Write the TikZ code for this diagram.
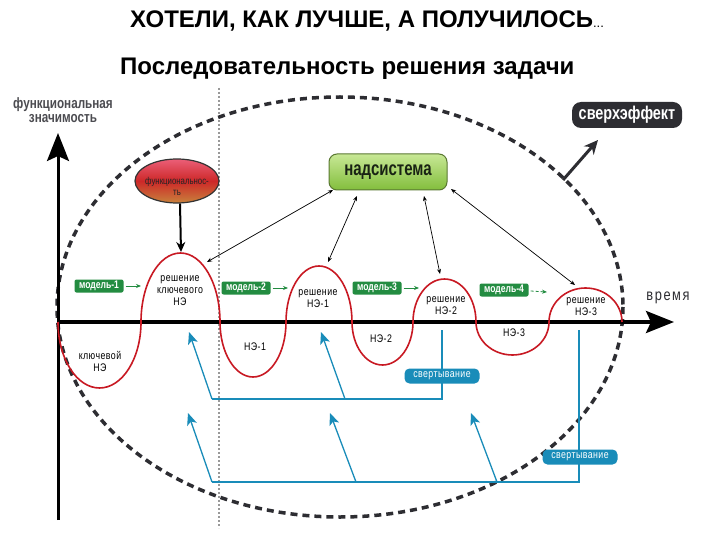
\documentclass[tikz,border=0pt]{standalone}
\usepackage{fontspec}
\setmainfont{Liberation Sans}
\newfontfamily\narrowf{Liberation Sans}
\newfontfamily\condf[FakeStretch=0.8,LetterSpace=4]{Liberation Sans}
\newfontfamily\spacedf[FakeStretch=0.8,LetterSpace=10]{Liberation Sans}
\newfontfamily\tightf[FakeStretch=0.78]{Liberation Sans}
\newfontfamily\slimf[FakeStretch=0.75]{Liberation Sans}
\usetikzlibrary{arrows.meta,shapes.geometric}
\definecolor{wavered}{RGB}{200,25,35}
\definecolor{mgreen}{RGB}{35,140,65}
\definecolor{tealb}{RGB}{25,140,185}
\definecolor{dgray}{RGB}{45,45,50}
\tikzset{
  wave/.style={draw=wavered, line width=1.6pt},
  modelbox/.style={fill=mgreen, text=white, rounded corners=2pt, font=\tightf\bfseries\fontsize{11}{11}\selectfont, inner sep=0.5pt, minimum width=49pt, minimum height=13pt},
  svbox/.style={fill=tealb, text=white, rounded corners=5pt, font=\condf\fontsize{11}{11}\selectfont, minimum width=75pt, minimum height=15pt, inner sep=0.5pt},
  lbl/.style={font=\condf\fontsize{11}{12}\selectfont, align=center, inner sep=0pt},
  garr/.style={draw=mgreen, line width=0.8pt, -{Stealth[length=5pt,width=4pt]}},
  barr/.style={draw=tealb, line width=1.3pt, -{Stealth[length=12pt,width=10pt,inset=3pt]}},
  bline/.style={draw=tealb, line width=1.3pt},
  darr/.style={draw=black, line width=0.7pt, {Stealth[length=5pt,width=4pt]}-{Stealth[length=5pt,width=4pt]}},
  axisline/.style={draw=black, line width=3pt, -{Stealth[length=28pt,width=22pt,inset=5pt]}},
}
\begin{document}
\begin{tikzpicture}[x=1pt,y=-1pt]
\useasboundingbox[fill=white] (0,0) rectangle (720,540);

% titles
\node[anchor=base west, inner sep=0pt, font=\narrowf\bfseries\fontsize{24}{24}\selectfont] (title) at (130,28)
  {ХОТЕЛИ, КАК ЛУЧШЕ, А ПОЛУЧИЛОСЬ{\normalfont\fontsize{13}{13}\selectfont...}};
\node[anchor=base west, inner sep=0pt, font=\narrowf\bfseries\fontsize{24}{24}\selectfont] (subtitle) at (120,75)
  {Последовательность решения задачи};

% dotted vertical line
\coordinate (vt) at (219,88);
\coordinate (vb) at (219,528);
\draw[gray!80, line width=1.2pt, dash pattern=on 2pt off 2pt] (vt) -- (vb);

% big dashed ellipse
\draw[dgray, line width=3.5pt, dash pattern=on 7pt off 5pt] (340,307) ellipse [x radius=283, y radius=210];

% axes
\coordinate (o) at (58,322);
\coordinate (ytop) at (58,133);
\coordinate (ybot) at (58,520);
\coordinate (xend) at (674,322);
\draw[axisline] (ybot) -- (ytop);
\draw[axisline, line width=3.5pt] (o) -- (xend);
\node[font=\tightf\bfseries\fontsize{15}{14}\selectfont, text=dgray!85, align=center, inner sep=0pt] (ylab) at (63,110) {функциональная\\значимость};
\node[font=\spacedf\fontsize{16}{16}\selectfont, text=dgray, inner sep=0pt] (tlab) at (668,298) {время};

% wave
\draw[wave] (58,322)
  .. controls (58,358.5) and (76.6,388) .. (99.5,388) .. controls (122.4,388) and (141,358.5) .. (141,322)
  .. controls (141,283.9) and (158.7,253) .. (180.5,253) .. controls (202.3,253) and (220,283.9) .. (220,322)
  .. controls (220,352.4) and (234.8,377) .. (253,377) .. controls (271.2,377) and (286,352.4) .. (286,322)
  .. controls (286,291.1) and (300.8,266) .. (319,266) .. controls (337.2,266) and (352,291.1) .. (352,322)
  .. controls (352,345.7) and (365.7,365) .. (382.5,365) .. controls (399.3,365) and (413,345.7) .. (413,322)
  .. controls (413,298.3) and (427.1,279) .. (444.5,279) .. controls (461.9,279) and (476,298.3) .. (476,322)
  .. controls (476,340.2) and (492.3,355) .. (512.5,355) .. controls (532.7,355) and (549,340.2) .. (549,322)
  .. controls (549,303.2) and (565.3,288) .. (585.5,288) .. controls (605.7,288) and (622,303.2) .. (622,322);

% wave labels
\node[lbl] (k0) at (100,361) {ключевой\\НЭ};
\node[lbl] (r0) at (180,291) {решение\\ключевого\\НЭ};
\node[lbl] (n1) at (255,347) {НЭ-1};
\node[lbl] (r1) at (318,299) {решение\\НЭ-1};
\node[lbl] (n2) at (381,339) {НЭ-2};
\node[lbl] (r2) at (446,306) {решение\\НЭ-2};
\node[lbl] (n3) at (514,333) {НЭ-3};
\node[lbl] (r3) at (586,307) {решение\\НЭ-3};

% models
\node[modelbox] (m1) at (99,286) {модель-1};
\node[modelbox] (m2) at (246,288) {модель-2};
\node[modelbox] (m3) at (377,288) {модель-3};
\node[modelbox] (m4) at (504,290) {модель-4};
\coordinate (m1t) at (141,286);
\coordinate (m2t) at (288,288);
\coordinate (m3t) at (419,288);
\coordinate (m4t) at (547,292);
\draw[garr] (m1.east) ++(2,0) -- (m1t);
\draw[garr] (m2.east) ++(2,0) -- (m2t);
\draw[garr] (m3.east) ++(2,0) -- (m3t);
\draw[garr, dash pattern=on 3pt off 2pt] (m4.east) ++(2,1) -- (m4t);

% functional ellipse
\node[ellipse, draw=black!80, line width=1.2pt, minimum width=84pt, minimum height=44pt, inner sep=0pt,
      top color={rgb,255:red,235;green,95;blue,120}, bottom color={rgb,255:red,200;green,130;blue,60}, middle color={rgb,255:red,205;green,40;blue,40}] (fn) at (177,181) {};
\node[font=\tightf\fontsize{10}{11}\selectfont, text=black!85, align=center, inner sep=0pt] (fntext) at (177,186) {функциональнос-\\ть};
\coordinate (fnt) at (181,252);
\draw[black, line width=2pt, -{Stealth[length=10pt,width=9pt]}] (fn.south) ++(3,0) -- (fnt);

% надсистема
\node[draw={rgb,255:red,90;green,120;blue,50}, line width=1pt, rounded corners=8pt, minimum width=118pt, minimum height=36pt,
      top color={rgb,255:red,200;green,232;blue,150}, bottom color={rgb,255:red,130;green,190;blue,60},
      font=\slimf\bfseries\fontsize{20}{20}\selectfont, text={rgb,255:red,25;green,35;blue,20}] (ns) at (388,172) {надсистема};
\coordinate (na) at (333,190);
\coordinate (nb) at (357,196);
\coordinate (nc) at (424,196);
\coordinate (nd) at (451,189);
\coordinate (p0) at (207,262);
\coordinate (p1) at (328,262);
\coordinate (p2) at (440,274);
\coordinate (p3) at (575,285);
\draw[darr] (na) -- (p0);
\draw[darr] (nb) -- (p1);
\draw[darr] (nc) -- (p2);
\draw[darr] (nd) -- (p3);

% сверхэффект
\node[fill=dgray, text=white, rounded corners=9pt, minimum width=110pt, minimum height=26pt, inner sep=1pt,
      font=\tightf\bfseries\fontsize{18.5}{18}\selectfont] (sx) at (627,115) {сверхэффект};
\coordinate (sxs) at (563,180);
\coordinate (sxt) at (598,140);
\draw[dgray, line width=3pt, -{Stealth[length=14pt,width=13pt]}] (sxs) -- (sxt);

% свертывание brackets
\coordinate (a1) at (442,330);
\coordinate (a2) at (442,399);
\coordinate (a3) at (212,399);
\draw[bline] (a1) -- (a2) -- (a3);
\node[svbox] (s1) at (442,376) {свертывание};
\coordinate (b1) at (579,330);
\coordinate (b2) at (579,482);
\coordinate (b3) at (212,482);
\draw[bline] (b1) -- (b2) -- (b3);
\node[svbox] (s2) at (580,457) {свертывание};

\coordinate (u1) at (345,399);
\coordinate (u1t) at (321,332);
\coordinate (u0t) at (189,332);
\draw[barr] (a3) -- (u0t);
\draw[barr] (u1) -- (u1t);
\coordinate (v1) at (356,482);
\coordinate (v2) at (497,482);
\coordinate (v0t) at (188,413);
\coordinate (v1t) at (330,413);
\coordinate (v2t) at (471,413);
\draw[barr] (b3) -- (v0t);
\draw[barr] (v1) -- (v1t);
\draw[barr] (v2) -- (v2t);
\end{tikzpicture}
\end{document}
